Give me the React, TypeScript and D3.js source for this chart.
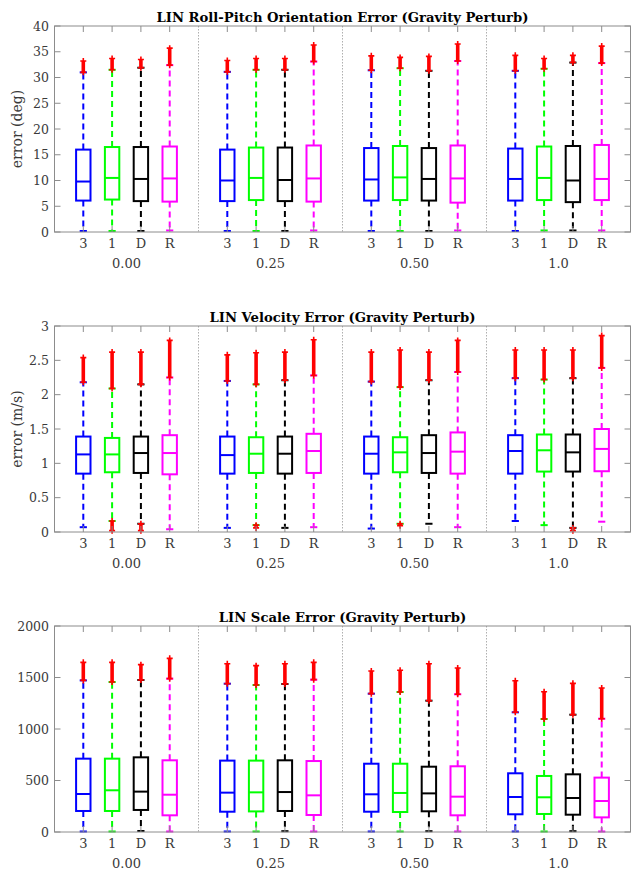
import React from "react";
import * as d3 from "d3";

// groups along x, and the four methods inside each group
const groupLabels = ["0.00", "0.25", "0.50", "1.0"];
const methodLabels = ["3", "1", "D", "R"];
const methodColors = ["#0000ff", "#00ff00", "#000000", "#ff00ff"];

// values are group-major: [g0:3,1,D,R, g1:3,1,D,R, ...]
// roll-pitch orientation error (deg)
const oriQ1 = [6.1, 6.3, 6.0, 5.9, 6.0, 6.2, 6.0, 5.9, 6.1, 6.2, 6.1, 5.7, 6.1, 6.2, 5.8, 6.2];
const oriMed = [9.8, 10.5, 10.3, 10.4, 10.0, 10.5, 10.1, 10.4, 10.2, 10.6, 10.3, 10.4, 10.3, 10.5, 10.0, 10.3];
const oriQ3 = [16.0, 16.5, 16.5, 16.6, 16.0, 16.4, 16.4, 16.8, 16.3, 16.7, 16.3, 16.8, 16.2, 16.6, 16.7, 16.9];
const oriLo = [0.2, 0.2, 0.2, 0.3, 0.2, 0.2, 0.2, 0.3, 0.2, 0.2, 0.2, 0.3, 0.2, 0.3, 0.3, 0.3];
const oriHi = [31.0, 31.5, 31.9, 32.4, 31.1, 31.5, 31.5, 33.1, 31.4, 31.8, 31.3, 33.2, 31.3, 31.7, 32.9, 32.8];
const oriMax = [33.2, 33.7, 33.5, 35.7, 33.3, 33.7, 33.7, 36.3, 34.2, 33.9, 34.1, 36.5, 34.3, 33.7, 34.3, 36.1];

// velocity error (m/s)
const velQ1 = [0.85, 0.87, 0.86, 0.84, 0.85, 0.86, 0.85, 0.86, 0.85, 0.87, 0.86, 0.85, 0.85, 0.88, 0.88, 0.885];
const velMed = [1.13, 1.13, 1.15, 1.15, 1.12, 1.14, 1.14, 1.18, 1.14, 1.16, 1.15, 1.17, 1.18, 1.19, 1.16, 1.21];
const velQ3 = [1.39, 1.37, 1.39, 1.41, 1.39, 1.38, 1.39, 1.43, 1.39, 1.38, 1.41, 1.45, 1.41, 1.42, 1.42, 1.5];
const velLo = [0.07, 0.16, 0.12, 0.04, 0.06, 0.1, 0.06, 0.07, 0.05, 0.12, 0.12, 0.07, 0.16, 0.1, 0.06, 0.15];
const velHi = [2.18, 2.09, 2.15, 2.25, 2.2, 2.15, 2.21, 2.28, 2.19, 2.11, 2.21, 2.33, 2.24, 2.22, 2.24, 2.39];
const velMax = [2.54, 2.62, 2.62, 2.79, 2.58, 2.61, 2.62, 2.8, 2.62, 2.65, 2.62, 2.79, 2.65, 2.65, 2.65, 2.86];
const velMin = [null, 0.02, 0.02, null, null, 0.06, null, null, null, 0.09, null, null, null, null, 0.02, null];

// scale error
const sclQ1 = [204, 204, 214, 162, 197, 200, 204, 165, 197, 194, 201, 162, 172, 175, 168, 142];
const sclMed = [369, 405, 392, 362, 382, 385, 388, 356, 366, 379, 375, 343, 340, 337, 330, 301];
const sclQ3 = [712, 712, 725, 696, 693, 693, 696, 689, 663, 663, 634, 638, 570, 544, 560, 528];
const sclLo = [5, 5, 10, 5, 5, 5, 8, 5, 5, 5, 8, 5, 5, 5, 8, 5];
const sclHi = [1472, 1456, 1476, 1489, 1440, 1427, 1437, 1479, 1343, 1359, 1275, 1337, 1162, 1097, 1139, 1100];
const sclMax = [1647, 1647, 1625, 1686, 1634, 1615, 1634, 1647, 1563, 1570, 1634, 1592, 1469, 1362, 1443, 1398];

const oriTicks = [0, 5, 10, 15, 20, 25, 30, 35, 40];
const velTicks = [0, 0.5, 1, 1.5, 2, 2.5, 3];
const sclTicks = [0, 500, 1000, 1500, 2000];

const panels = [
  { title: "LIN Roll-Pitch Orientation Error (Gravity Perturb)", ylabel: "error (deg)", ticks: oriTicks,
    q1: oriQ1, med: oriMed, q3: oriQ3, lo: oriLo, hi: oriHi, max: oriMax, min: null },
  { title: "LIN Velocity Error (Gravity Perturb)", ylabel: "error (m/s)", ticks: velTicks,
    q1: velQ1, med: velMed, q3: velQ3, lo: velLo, hi: velHi, max: velMax, min: velMin },
  { title: "LIN Scale Error (Gravity Perturb)", ylabel: "", ticks: sclTicks,
    q1: sclQ1, med: sclMed, q3: sclQ3, lo: sclLo, hi: sclHi, max: sclMax, min: null },
];

const W = 639;
const H = 873;
const PANEL_H = 300;
const left = 54.5;
const right = 630.5;
const top = 26;
const bottom = 232;
const font = "'DejaVu Serif', serif";
const axisGrey = "#8c8c8c";
const textGrey = "#3a3a3a";

function Plus({ x, y }) {
  return (
    <path d={`M${x - 3},${y}H${x + 3}M${x},${y - 3}V${y + 3}`} stroke="#ff0000" strokeWidth={1.6} />
  );
}

function Panel({ p, offset }) {
  // each group spans 5 units, boxes at 1..4
  const x = d3.scaleLinear().domain([0, 20]).range([left, right]);
  const ticks = p.ticks;
  const y = d3.scaleLinear().domain([ticks[0], ticks[ticks.length - 1]]).range([bottom, top]);
  const bw = x(0.5) - x(0);
  const cw = x(0.25) - x(0);
  const positions = d3.range(16).map((i) => Math.floor(i / 4) * 5 + (i % 4) + 1);

  return (
    <g transform={`translate(0,${offset})`}>
      <text x={(left + right) / 2} y={22} textAnchor="middle" fontFamily={font} fontWeight="bold" fontSize={13.2} fill="#000">
        {p.title}
      </text>

      {/* group separators */}
      {[5, 10, 15].map((g) => (
        <line key={g} x1={x(g)} x2={x(g)} y1={top} y2={bottom} stroke="#9a9a9a" strokeWidth={0.8} strokeDasharray="1.5,1.5" />
      ))}

      {positions.map((pos, i) => {
        const c = methodColors[i % 4];
        const cx = x(pos);
        return (
          <g key={i}>
            {/* whiskers */}
            <line x1={cx} x2={cx} y1={y(p.q3[i])} y2={y(p.hi[i])} stroke={c} strokeWidth={2} strokeDasharray="6,4" />
            <line x1={cx} x2={cx} y1={y(p.q1[i])} y2={y(p.lo[i])} stroke={c} strokeWidth={2} strokeDasharray="6,4" />
            <line x1={cx - cw / 2} x2={cx + cw / 2} y1={y(p.hi[i])} y2={y(p.hi[i])} stroke={c} strokeWidth={2} />
            <line x1={cx - cw / 2} x2={cx + cw / 2} y1={y(p.lo[i])} y2={y(p.lo[i])} stroke={c} strokeWidth={2} />
            {/* box */}
            <rect x={cx - bw / 2} y={y(p.q3[i])} width={bw} height={y(p.q1[i]) - y(p.q3[i])} fill="none" stroke={c} strokeWidth={2} />
            <line x1={cx - bw / 2} x2={cx + bw / 2} y1={y(p.med[i])} y2={y(p.med[i])} stroke={c} strokeWidth={2} />
            {/* upper outliers */}
            <line x1={cx} x2={cx} y1={y(p.hi[i])} y2={y(p.max[i])} stroke="#ff0000" strokeWidth={3.6} />
            <Plus x={cx} y={y(p.hi[i])} />
            <Plus x={cx} y={y(p.max[i])} />
            {/* lower outliers */}
            {p.min && p.min[i] != null && (
              <g>
                <line x1={cx} x2={cx} y1={y(p.lo[i])} y2={y(p.min[i])} stroke="#ff0000" strokeWidth={3.6} />
                <Plus x={cx} y={y(p.lo[i])} />
                <Plus x={cx} y={y(p.min[i])} />
              </g>
            )}
          </g>
        );
      })}

      {/* axes box */}
      <rect x={left} y={top} width={right - left} height={bottom - top} fill="none" stroke={axisGrey} strokeWidth={1} />
      {positions.map((pos, i) => (
        <g key={"xt" + i}>
          <line x1={x(pos)} x2={x(pos)} y1={top} y2={top + 6} stroke={axisGrey} strokeWidth={1} />
          <line x1={x(pos)} x2={x(pos)} y1={bottom} y2={bottom - 6} stroke={axisGrey} strokeWidth={1} />
          <text x={x(pos)} y={248} textAnchor="middle" fontFamily={font} fontSize={13} fill={textGrey}>
            {methodLabels[i % 4]}
          </text>
        </g>
      ))}
      {groupLabels.map((g, k) => (
        <text key={g} x={x(k * 5 + 2.5)} y={268} textAnchor="middle" fontFamily={font} fontSize={13} fill={textGrey}>
          {g}
        </text>
      ))}
      {ticks.map((t) => (
        <g key={"yt" + t}>
          <line x1={left} x2={left + 6} y1={y(t)} y2={y(t)} stroke={axisGrey} strokeWidth={1} />
          <line x1={right} x2={right - 6} y1={y(t)} y2={y(t)} stroke={axisGrey} strokeWidth={1} />
          <text x={49} y={y(t) + 4.5} textAnchor="end" fontFamily={font} fontSize={12.5} fill={textGrey}>
            {String(t)}
          </text>
        </g>
      ))}
      {p.ylabel && (
        <text transform={`translate(22,${(top + bottom) / 2}) rotate(-90)`} textAnchor="middle" fontFamily={font} fontSize={14} fill={textGrey}>
          {p.ylabel}
        </text>
      )}
    </g>
  );
}

export default function App() {
  return (
    <svg width={W} height={H} style={{ position: "absolute", left: 0, top: 0, background: "#fff" }}>
      <rect width={W} height={H} fill="#fff" />
      {panels.map((p, k) => (
        <Panel key={k} p={p} offset={k * PANEL_H} />
      ))}
    </svg>
  );
}
